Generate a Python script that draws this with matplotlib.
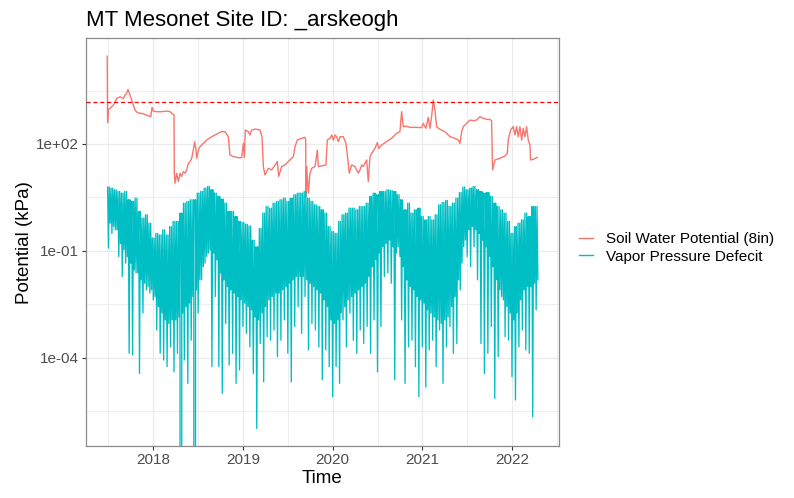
import numpy as np
import matplotlib
matplotlib.use("Agg")
import matplotlib.pyplot as plt
from matplotlib.ticker import FixedLocator, FixedFormatter

plt.rcParams["font.family"] = ["Liberation Sans", "DejaVu Sans"]

# Soil water potential at 8in (decimal year, kPa)
soil_year = [
    2017.486, 2017.490, 2017.499, 2017.517, 2017.554, 2017.592, 2017.629, 2017.666,
    2017.684, 2017.703, 2017.718, 2017.740, 2017.759, 2017.796, 2017.822, 2017.870,
    2017.926, 2017.971, 2017.986, 2018.000, 2018.038, 2018.093, 2018.149, 2018.186,
    2018.216, 2018.231, 2018.234, 2018.242, 2018.261, 2018.279, 2018.298, 2018.316,
    2018.335, 2018.353, 2018.372, 2018.391, 2018.409, 2018.428, 2018.446, 2018.461,
    2018.476, 2018.484, 2018.502, 2018.521, 2018.558, 2018.595, 2018.651, 2018.707,
    2018.762, 2018.799, 2018.836, 2018.855, 2018.892, 2018.948, 2018.985, 2019.004,
    2019.015, 2019.026, 2019.059, 2019.078, 2019.097, 2019.134, 2019.190, 2019.212,
    2019.227, 2019.245, 2019.282, 2019.320, 2019.357, 2019.383, 2019.398, 2019.431,
    2019.468, 2019.524, 2019.561, 2019.580, 2019.606, 2019.654, 2019.691, 2019.699,
    2019.702, 2019.710, 2019.728, 2019.747, 2019.766, 2019.803, 2019.829, 2019.840,
    2019.877, 2019.925, 2019.940, 2019.970, 2019.989, 2020.007, 2020.026, 2020.044,
    2020.063, 2020.081, 2020.119, 2020.148, 2020.174, 2020.185, 2020.211, 2020.249,
    2020.286, 2020.304, 2020.323, 2020.341, 2020.360, 2020.379, 2020.397, 2020.416,
    2020.434, 2020.472, 2020.498, 2020.512, 2020.546, 2020.602, 2020.657, 2020.713,
    2020.750, 2020.769, 2020.787, 2020.817, 2020.862, 2020.936, 2020.992, 2021.010,
    2021.040, 2021.066, 2021.085, 2021.103, 2021.122, 2021.140, 2021.159, 2021.196,
    2021.252, 2021.308, 2021.363, 2021.401, 2021.419, 2021.438, 2021.456, 2021.494,
    2021.531, 2021.568, 2021.605, 2021.642, 2021.679, 2021.717, 2021.754, 2021.772,
    2021.783, 2021.809, 2021.865, 2021.921, 2021.947, 2021.958, 2021.984, 2022.014,
    2022.032, 2022.051, 2022.069, 2022.088, 2022.107, 2022.125, 2022.144, 2022.162,
    2022.181, 2022.200, 2022.207, 2022.237, 2022.281,
]
soil_kpa = [
    29200, 396, 935, 998, 1237, 1902, 2118, 1902,
    2358, 2625, 3397, 2358, 1708, 896, 755, 723,
    649, 583, 1064, 840, 805, 805, 840, 805,
    692, 649, 15.1, 7.9, 15.1, 8.8, 15.1, 12.2,
    16.8, 15.1, 18.7, 28.7, 32.0, 39.7, 67.9, 116,
    67.9, 39.7, 67.9, 84.2, 104, 129, 160, 190,
    222, 222, 160, 49.2, 44.2, 41.4, 41.4, 104,
    41.4, 247, 222, 179, 247, 263, 247, 160,
    23.2, 13.5, 20.8, 18.7, 25.8, 32.0, 12.2, 23.2,
    25.8, 35.6, 44.2, 84.2, 129, 144, 154, 129,
    3.35, 23.2, 4.15, 15.1, 20.8, 23.2, 67.9, 23.2,
    24.2, 25.8, 129, 144, 179, 129, 179, 160,
    116, 160, 160, 104, 28.7, 15.1, 25.8, 23.2,
    15.1, 18.7, 25.8, 23.2, 28.7, 35.6, 8.8, 44.2,
    54.8, 75.6, 109, 75.6, 93.7, 116, 144, 199,
    222, 805, 306, 319, 293, 293, 287, 379,
    275, 558, 275, 583, 1708, 896, 306, 258,
    222, 160, 144, 129, 104, 222, 306, 379,
    470, 450, 470, 583, 524, 491, 491, 450,
    18.7, 35.6, 39.7, 46.1, 54.8, 129, 247, 306,
    179, 306, 160, 306, 129, 275, 160, 306,
    129, 93.7, 35.6, 37.0, 42.0,
]

# Vapor pressure defect (kPa), one reading set every two weeks:
# daytime peak, deepest night-time dip, and the typical night-time low
vpd_start = 2017.49
vpd_step = 1 / 26
vpd_high = [
    6.17, 5.78, 5.19, 4.66, 4.18, 4.66, 2.72, 2.44, 3.03, 1.28, 0.83, 1.03, 0.60, 0.23, 0.31, 0.28,
    0.39, 0.28, 0.48, 0.67, 0.67, 1.15, 2.19, 2.44, 2.72, 2.72, 4.18, 4.66, 5.78, 6.44, 5.19, 4.18,
    3.37, 2.84, 2.19, 1.28, 1.28, 0.92, 0.67, 0.63, 0.56, 0.50, 0.20, 0.13, 0.43, 1.15, 1.76, 1.58,
    2.19, 2.44, 2.72, 3.03, 2.44, 3.03, 3.76, 4.18, 4.18, 4.66, 3.03, 2.44, 1.96, 1.76, 1.42, 1.15,
    0.48, 0.35, 0.31, 0.67, 1.03, 1.15, 1.58, 1.58, 1.42, 1.76, 1.76, 2.19, 3.37, 4.18, 3.76, 4.66,
    4.66, 5.19, 4.97, 4.66, 3.76, 2.72, 1.42, 2.19, 1.15, 1.42, 1.58, 0.92, 0.74, 0.92, 0.74, 1.03,
    1.96, 2.29, 2.60, 1.76, 2.19, 3.03, 4.36, 6.17, 5.19, 5.78, 6.44, 5.19, 4.66, 4.18, 4.36, 3.37,
    2.19, 1.76, 1.42, 1.15, 0.67, 0.31, 0.48, 0.60, 0.74, 1.15, 0.92, 1.76, 1.76,
]
vpd_dip = [
    0.119, 0.31, 0.39, 0.069, 0.019, 0.045, 1.33e-4, 1.19e-4, 0.024, 3.6e-5, 1.8e-3, 8.0e-3, 6.5e-3, 4.2e-3, 6.0e-4, 1.33e-4,
    8.6e-5, 5.6e-5, 2.0e-4, 4.0e-5, 1.33e-4, 0.0, 8.6e-5, 1.9e-5, 3.1e-4, 0.0, 1.8e-3, 0.0153, 0.045, 0.086, 5.6e-5, 5.2e-3,
    5.6e-5, 1.0e-5, 9.2e-4, 6.2e-5, 1.33e-4, 1.9e-5, 4.5e-5, 7.5e-4, 4.8e-4, 2.0e-4, 3.6e-5, 1.03e-6, 2.5e-4, 2.1e-5, 3.9e-4, 3.1e-4,
    6.0e-4, 1.07e-4, 3.1e-4, 1.15e-3, 1.33e-4, 2.1e-5, 7.5e-4, 2.7e-3, 4.8e-4, 5.2e-3, 1.65e-4, 9.2e-4, 6.0e-4, 2.0e-4, 2.4e-5, 1.65e-4,
    5.6e-5, 8.0e-6, 5.6e-5, 1.9e-5, 1.15e-3, 2.0e-4, 1.8e-3, 3.1e-4, 1.33e-4, 6.0e-4, 2.5e-4, 7.5e-4, 1.33e-4, 1.15e-3, 4.0e-5, 7.5e-4,
    0.019, 0.024, 0.0123, 2.4e-5, 0.13, 1.15e-3, 1.9e-5, 2.0e-4, 3.1e-4, 5.6e-5, 8.0e-6, 2.0e-4, 1.5e-5, 1.65e-4, 3.1e-4, 5.6e-5,
    6.0e-4, 1.9e-5, 2.0e-4, 7.5e-4, 1.33e-4, 2.5e-4, 8.0e-3, 0.13, 0.069, 0.036, 0.13, 0.0153, 2.5e-4, 3.6e-5, 1.33e-4, 7.5e-4,
    7.2e-6, 1.07e-4, 5.2e-3, 3.9e-4, 3.1e-4, 2.9e-5, 6.5e-6, 2.0e-4, 6.0e-4, 1.65e-4, 1.33e-4, 2.2e-6, 2.2e-3,
]
vpd_low = [
    0.60, 0.48, 0.39, 0.16, 0.107, 0.069, 0.045, 0.029, 0.024, 0.0153, 0.0123, 0.0099,
    0.0080, 0.0052, 0.0027, 0.0018, 0.00115, 9.2e-4, 0.00115, 0.00115, 0.0014, 0.0018, 0.0027, 0.0034,
    0.0052, 0.0080, 0.0153, 0.036, 0.069, 0.107, 0.086, 0.056,
    0.024, 0.0153, 0.0099, 0.0080, 0.0065, 0.0052, 0.0042, 0.0034, 0.0027, 0.0022, 0.0014, 0.00115,
    0.0018, 0.0027, 0.0042, 0.0052, 0.0065, 0.0065, 0.0080, 0.0099, 0.0123, 0.0153, 0.019, 0.019,
    0.019, 0.0153, 0.0123, 0.0099, 0.0080, 0.0065, 0.0042, 0.0027,
    0.00115, 9.2e-4, 0.00115, 0.0018, 0.0027, 0.0042, 0.0052, 0.0065, 0.0080, 0.0099, 0.0123, 0.019,
    0.036, 0.056, 0.086, 0.13, 0.16, 0.20, 0.13, 0.086, 0.069, 0.036, 0.0153, 0.0099,
    0.0080, 0.0052, 0.0042, 0.0034, 0.0022, 0.0018, 0.0014, 0.00115,
    9.2e-4, 0.00115, 0.0014, 0.0027, 0.0052, 0.0153, 0.045, 0.20, 0.39, 0.48, 0.39, 0.31,
    0.20, 0.13, 0.069, 0.036, 0.0153, 0.0080, 0.0042, 0.0027, 0.0018, 0.00115, 0.0018, 0.0042,
    0.0080, 0.0099, 0.0099, 0.0123, 0.0153,
]
wilting_point = 1500

year_ticks = [2018, 2019, 2020, 2021, 2022]
year_minor = [2017.5, 2018.5, 2019.5, 2020.5, 2021.5, 2022.5]
y_ticks = [1e-4, 1e-1, 1e2]
y_tick_labels = ["1e-04", "1e-01", "1e+02"]
y_minor = [10 ** -5.5, 10 ** -2.5, 10 ** 0.5, 10 ** 3.5]

# order readings in time: peak, dip, peak, low within each two-week step
n = len(vpd_high)
base = vpd_start + np.arange(n) * vpd_step
vpd_t = np.empty(4 * n)
vpd_v = np.empty(4 * n)
for k, vals in enumerate([vpd_high, vpd_dip, vpd_high, vpd_low]):
    vpd_t[k::4] = base + k * vpd_step / 4
    vpd_v[k::4] = vals

fig = plt.figure(figsize=(7.94, 4.98), dpi=100)
ax = fig.add_axes([85.7 / 794, 1 - 446 / 498, (559.3 - 85.7) / 794, (446 - 38.3) / 498])
ax.set_yscale("log", nonpositive="clip")

ax.plot(soil_year, soil_kpa, color="#F8766D", lw=1.0, label="Soil Water Potential (8in)", zorder=3)
ax.plot(vpd_t, vpd_v, color="#00BFC4", lw=0.95, label="Vapor Pressure Defecit", zorder=4)
ax.axhline(wilting_point, color="#FF0000", lw=0.9, ls=(0, (3.3, 2.2)), zorder=5)

ax.set_xlim(2017.246, 2022.527)
ax.set_ylim(10 ** -6.479, 10 ** 4.967)

ax.xaxis.set_major_locator(FixedLocator(year_ticks))
ax.xaxis.set_major_formatter(FixedFormatter([str(y) for y in year_ticks]))
ax.xaxis.set_minor_locator(FixedLocator(year_minor))
ax.yaxis.set_major_locator(FixedLocator(y_ticks))
ax.yaxis.set_major_formatter(FixedFormatter(y_tick_labels))
ax.yaxis.set_minor_locator(FixedLocator(y_minor))
ax.yaxis.set_minor_formatter(FixedFormatter([""] * len(y_minor)))

ax.grid(which="major", color="#EBEBEB", lw=0.9)
ax.grid(which="minor", color="#EBEBEB", lw=0.6)
ax.set_axisbelow(True)
ax.tick_params(which="major", length=3, width=0.8, color="#333333",
               labelsize=11, labelcolor="#4D4D4D", pad=2)
ax.tick_params(which="minor", length=0)
for sp in ax.spines.values():
    sp.set_color("#8a8a8a")
    sp.set_linewidth(0.9)

ax.set_xlabel("Time", fontsize=13.5, labelpad=2)
ax.set_ylabel("Potential (kPa)", fontsize=13.5, labelpad=2)
ax.set_title("MT Mesonet Site ID: _arskeogh", loc="left", fontsize=16, pad=8.6)

leg = fig.legend(loc="center left", bbox_to_anchor=(579 / 794, 1 - 248 / 498), frameon=False,
                 fontsize=11, handlelength=0.92, handletextpad=0.83, labelspacing=0.2,
                 borderpad=0, borderaxespad=0)
for line in leg.get_lines():
    line.set_linewidth(1.0)

fig.savefig("out.png", dpi=100)
